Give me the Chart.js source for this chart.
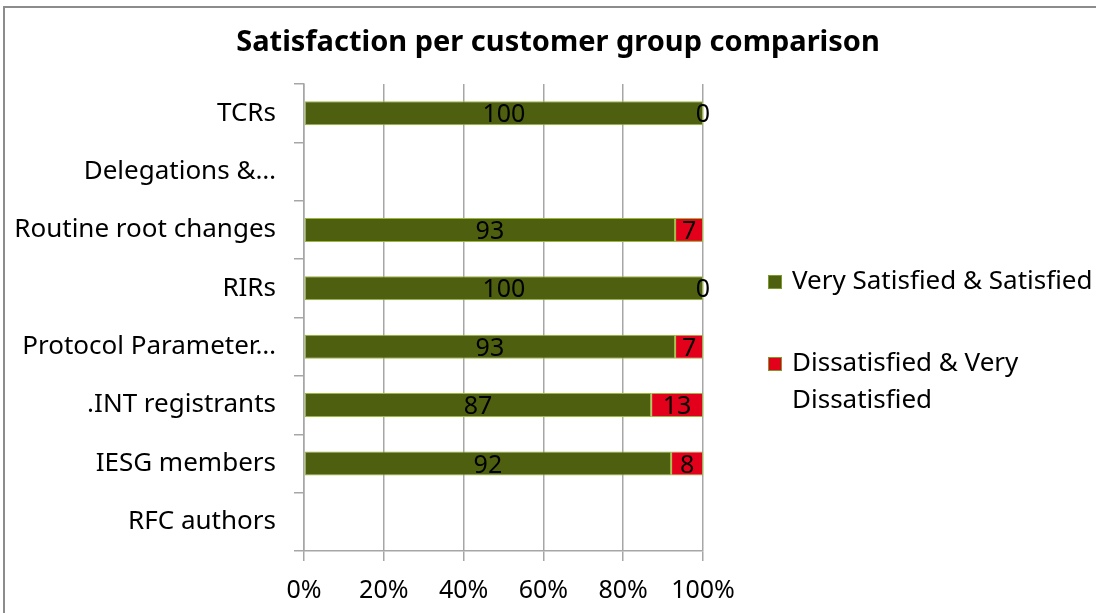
<!DOCTYPE html>
<html>
<head>
<meta charset="utf-8">
<script src="https://cdn.jsdelivr.net/npm/chart.js@4"></script>
<style>
  html, body { margin: 0; padding: 0; background: #fff; overflow: hidden; }
  #wrap { position: relative; width: 1096px; height: 613px; }
  #frame { position: absolute; left: 3px; top: 6px; width: 1200px; height: 700px;
           border-top: 2px solid #8c8c8c; border-left: 2px solid #8c8c8c; }
  canvas { position: absolute; left: 0; top: 0; }
</style>
</head>
<body>
<div id="wrap">
  <div id="frame"></div>
  <canvas id="satisfaction" width="1096" height="613"></canvas>
</div>
<script>
var chartTitle = 'Satisfaction per customer group comparison';
var groups = ['TCRs', 'Delegations &…', 'Routine root changes', 'RIRs',
              'Protocol Parameter…', '.INT registrants', 'IESG members', 'RFC authors'];
var satisfied = [100, null, 93, 100, 93, 87, 92, null];
var dissatisfied = [0, null, 7, 0, 7, 13, 8, null];
var seriesNames = ['Very Satisfied & Satisfied', 'Dissatisfied & Very Dissatisfied'];
var xTicks = [0, 20, 40, 60, 80, 100];

var FONT = 'Noto Sans';

// title centred over the whole canvas, not just the plot
var topTitle = {
    id: 'topTitle',
    afterDraw: function(chart) {
        var ctx = chart.ctx;
        ctx.save();
        ctx.font = 'bold 29px "' + FONT + '"';
        ctx.fillStyle = '#000';
        ctx.textAlign = 'center';
        ctx.textBaseline = 'middle';
        ctx.fillText(chartTitle, 558, 43);
        ctx.restore();
    }
};

// value printed in the middle of each bar segment
var barValues = {
    id: 'barValues',
    afterDatasetsDraw: function(chart) {
        var ctx = chart.ctx;
        ctx.save();
        ctx.font = '25px "' + FONT + '"';
        ctx.fillStyle = '#000';
        ctx.textAlign = 'center';
        ctx.textBaseline = 'middle';
        chart.data.datasets.forEach(function(ds, i) {
            chart.getDatasetMeta(i).data.forEach(function(bar, j) {
                if (ds.data[j] === null) return;
                var p = bar.getProps(['x', 'y', 'base'], true);
                ctx.fillText(ds.data[j], (p.x + p.base) / 2, p.y + 2);
            });
        });
        ctx.restore();
    }
};

// legend on the right, the second label wraps onto two lines
var sideLegend = {
    id: 'sideLegend',
    afterDraw: function(chart) {
        var ctx = chart.ctx;
        var rows = [
            { y: 282, lines: ['Very Satisfied & Satisfied'] },
            { y: 364, lines: ['Dissatisfied & Very', 'Dissatisfied'] }
        ];
        ctx.save();
        ctx.font = '26px "' + FONT + '"';
        ctx.textBaseline = 'middle';
        rows.forEach(function(row, i) {
            var ds = chart.data.datasets[i];
            ctx.fillStyle = ds.backgroundColor;
            ctx.fillRect(768, row.y - 7, 14, 14);
            ctx.strokeStyle = '#7a9a2a';
            ctx.lineWidth = 1;
            ctx.strokeRect(768.5, row.y - 6.5, 13, 13);
            ctx.fillStyle = '#000';
            row.lines.forEach(function(t, k) {
                ctx.fillText(t, 792, row.y + k * 37);
            });
        });
        ctx.restore();
    }
};

new Chart(document.getElementById('satisfaction'), {
    type: 'bar',
    data: {
        labels: groups,
        datasets: [{
            label: seriesNames[0],
            data: satisfied,
            backgroundColor: '#4e6010',
            borderColor: '#9cb83c',
            borderWidth: 1,
            borderSkipped: false,
            barPercentage: 0.41,
            categoryPercentage: 1
        }, {
            label: seriesNames[1],
            data: dissatisfied,
            backgroundColor: '#e2001a',
            borderColor: '#9cb83c',
            borderWidth: 1,
            borderSkipped: false,
            barPercentage: 0.41,
            categoryPercentage: 1
        }]
    },
    options: {
        indexAxis: 'y',
        responsive: false,
        animation: false,
        layout: { padding: { left: 0, right: 393, top: 84, bottom: 0 } },
        plugins: {
            legend: { display: false },
            tooltip: { enabled: false },
            title: { display: false }
        },
        scales: {
            x: {
                stacked: true,
                min: 0,
                max: 100,
                afterBuildTicks: function(scale) {
                    scale.ticks = xTicks.map(function(v) { return { value: v }; });
                },
                afterFit: function(scale) { scale.height = 62; },
                ticks: {
                    color: '#000',
                    padding: 17,
                    font: { family: FONT, size: 25, lineHeight: 1 },
                    callback: function(v) { return v + '%'; }
                },
                grid: { color: '#a6a6a6', lineWidth: 1.5, tickLength: 10 },
                border: { color: '#a6a6a6', width: 1.5 }
            },
            y: {
                stacked: true,
                afterFit: function(scale) { scale.width = 304; },
                ticks: {
                    color: '#000',
                    padding: 18,
                    font: { family: FONT, size: 26 }
                },
                grid: { drawOnChartArea: false, color: '#a6a6a6', lineWidth: 1.5, tickLength: 10, offset: true },
                border: { color: '#a6a6a6', width: 1.5 }
            }
        }
    },
    plugins: [topTitle, barValues, sideLegend]
});
</script>
</body>
</html>
